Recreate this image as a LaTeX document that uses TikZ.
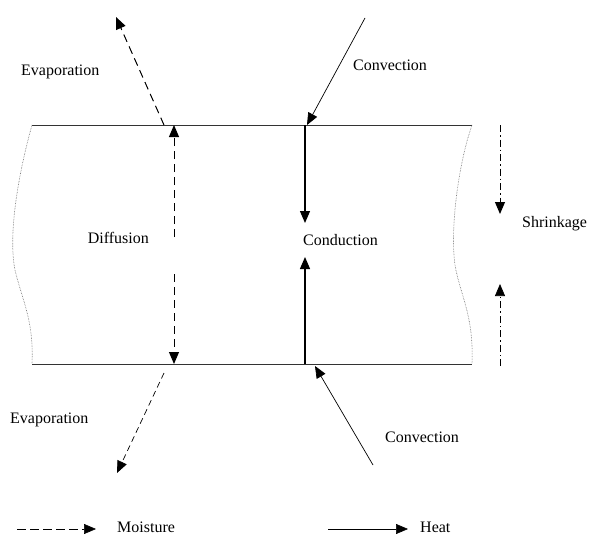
\documentclass[tikz,border=0pt]{standalone}
\usepackage{fontspec}
\setmainfont{Liberation Serif}
\usetikzlibrary{arrows.meta}
\begin{document}
\begin{tikzpicture}[x=1pt,y=-1pt,
  lbl/.style={inner sep=0pt,font=\fontsize{16}{19}\selectfont},
  tip/.style={-{Triangle[length=12pt,width=10pt]}},
  heat/.style={tip,line width=0.9pt},
  moist/.style={tip,line width=1pt,dash pattern=on 8pt off 5pt},
  shrink/.style={line width=1pt,dash pattern=on 7pt off 3pt on 1.5pt off 3pt},
  edge/.style={line width=0.8pt,black!80},
  side/.style={densely dotted,line width=0.6pt,black!60}]
\useasboundingbox (0,0) rectangle (595,538);
% slab
\coordinate (tl) at (32,125); \coordinate (tr) at (472,125);
\coordinate (bl) at (32,364); \coordinate (br) at (472,364);
\draw[edge] (tl) -- (tr);
\draw[edge] (bl) -- (br);
\draw[side] (tl) .. controls (18,175) and (8,235) .. (15,270) .. controls (22,300) and (34,320) .. (bl);
\draw[side] (tr) .. controls (458,165) and (450,230) .. (455,265) .. controls (460,295) and (474,315) .. (br);
% coordinates
\coordinate (etS) at (164,125); \coordinate (etE) at (116,17);
\coordinate (ebS) at (164,373); \coordinate (ebE) at (117,473);
\coordinate (dtS) at (174,237); \coordinate (dtE) at (174,125);
\coordinate (dbS) at (174,274); \coordinate (dbE) at (174,364);
\coordinate (ctS) at (365,18); \coordinate (ctE) at (307,125);
\coordinate (cbS) at (373,465); \coordinate (cbE) at (315,366);
\coordinate (kdS) at (305,125); \coordinate (kdE) at (305,223);
\coordinate (kuS) at (305,364); \coordinate (kuE) at (305,257);
\coordinate (stS) at (500,125); \coordinate (stE) at (500,214);
\coordinate (sbS) at (500,366); \coordinate (sbE) at (500,284);
\coordinate (lmS) at (17,529); \coordinate (lmE) at (96,529);
\coordinate (lhS) at (328,529); \coordinate (lhE) at (408,529);
% labels
\node[lbl,anchor=west] (evT) at (21,72) {Evaporation};
\node[lbl,anchor=west] (coT) at (353,65) {Convection};
\node[lbl,anchor=east] (dif) at (149,238) {Diffusion};
\node[lbl,anchor=west] (con) at (303,240) {Conduction};
\node[lbl,anchor=west] (shr) at (522,224) {Shrinkage};
\node[lbl,anchor=west] (evB) at (10,420) {Evaporation};
\node[lbl,anchor=west] (coB) at (385,437) {Convection};
\node[lbl,anchor=west] (mo) at (117,527) {Moisture};
\node[lbl,anchor=west] (he) at (420,527) {Heat};
% arrows
\draw[moist] (etS) -- (etE);
\draw[moist,line width=0.7pt,dash pattern=on 6pt off 4pt] (ebS) -- (ebE);
\draw[moist] (dtS) -- (dtE);
\draw[moist] (dbS) -- (dbE);
\draw[heat,line width=0.7pt] (ctS) -- (ctE);
\draw[heat,line width=0.7pt] (cbS) -- (cbE);
\draw[heat,line width=1.3pt] (kdS) -- (kdE);
\draw[heat,line width=1.3pt] (kuS) -- (kuE);
\draw[shrink,tip] (stS) -- (stE);
\draw[shrink,tip,line width=0.7pt] (sbS) -- (sbE);
\draw[moist,line width=0.6pt,dash pattern=on 9pt off 4pt] (lmS) -- (lmE);
\draw[heat,line width=0.6pt] (lhS) -- (lhE);
\end{tikzpicture}
\end{document}
